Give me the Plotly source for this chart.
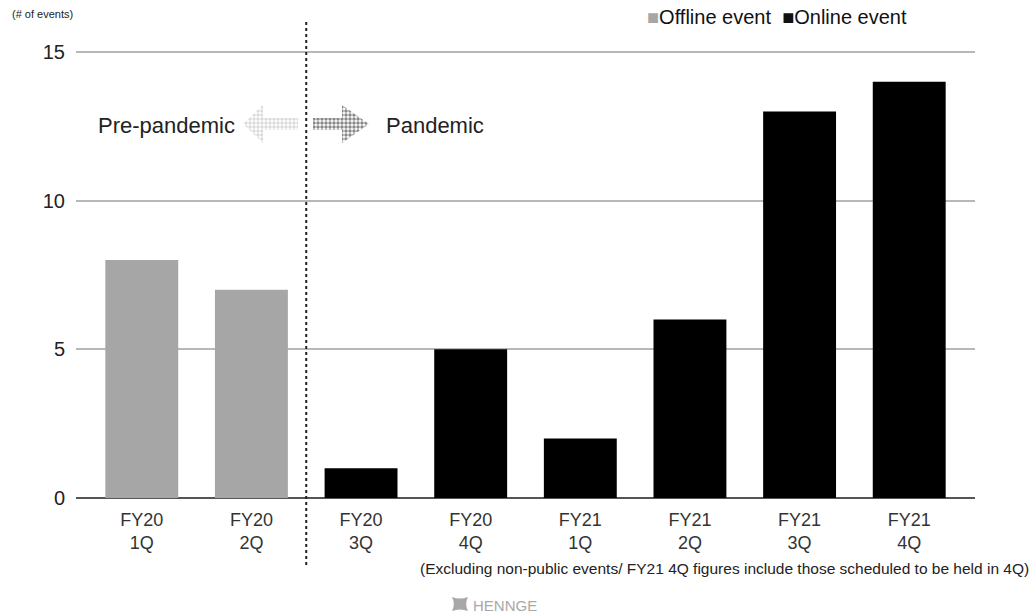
import plotly.graph_objects as go

categories = ["FY20<br>1Q", "FY20<br>2Q", "FY20<br>3Q", "FY20<br>4Q",
              "FY21<br>1Q", "FY21<br>2Q", "FY21<br>3Q", "FY21<br>4Q"]
offline_values = [8, 7, None, None, None, None, None, None]
online_values = [None, None, 1, 5, 2, 6, 13, 14]
y_ticks = [0, 5, 10, 15]

GREY = "#a6a6a6"
FONT = "Liberation Sans, Arial, Helvetica, sans-serif"

# plot area geometry in pixels (y=15 at 52px, y=0 at 498px)
L, R, B = 76, 975, 498
Y_TOP = 15.1
T = B - (B - 52) / 15 * Y_TOP
W, H = 1036, 615


def px(x):
    return (x - L) / (R - L)


def py(y):
    return (B - y) / (B - T)


fig = go.Figure()
fig.add_trace(go.Bar(x=list(range(8)), y=offline_values, marker_color=GREY,
                     marker_line_width=0, name="Offline event", showlegend=False))
fig.add_trace(go.Bar(x=list(range(8)), y=online_values, marker_color="#000000",
                     marker_line_width=0, name="Online event", showlegend=False))

# decorative dotted arrows (overlay axis in pixel coordinates)
left_arrow_x = [243, 263, 263, 298, 298, 263, 263, 243]
left_arrow_y = [124, 105, 118, 118, 130, 130, 143, 124]
right_arrow_x = [313, 342, 342, 369, 342, 342, 313, 313]
right_arrow_y = [118, 118, 105, 124, 143, 130, 130, 118]
fig.add_trace(go.Scatter(x=left_arrow_x, y=left_arrow_y, xaxis="x2", yaxis="y2",
                         mode="lines", line=dict(width=0), fill="toself",
                         fillcolor="rgba(0,0,0,0)",
                         fillpattern=dict(shape=".", fgcolor="#b5b5b5", bgcolor="rgba(0,0,0,0)",
                                          size=4, solidity=0.6),
                         hoverinfo="skip", showlegend=False))
fig.add_trace(go.Scatter(x=right_arrow_x, y=right_arrow_y, xaxis="x2", yaxis="y2",
                         mode="lines", line=dict(width=0), fill="toself",
                         fillcolor="rgba(0,0,0,0)",
                         fillpattern=dict(shape=".", fgcolor="#111111", bgcolor="rgba(0,0,0,0)",
                                          size=4, solidity=0.6),
                         hoverinfo="skip", showlegend=False))

fig.update_layout(
    width=W, height=H,
    margin=dict(l=L, r=W - R, t=T, b=H - B),
    paper_bgcolor="white", plot_bgcolor="white",
    bargap=0.335, barmode="overlay",
    font=dict(family=FONT, color="#222222"),
    xaxis=dict(
        range=[-0.6, 7.6], tickmode="array", tickvals=list(range(8)), ticktext=categories,
        showgrid=False, zeroline=False, showline=False, ticks="", ticklabelstandoff=9,
        tickfont=dict(size=18, color="#333333"), fixedrange=True,
    ),
    yaxis=dict(
        range=[0, Y_TOP], tickmode="array", tickvals=y_ticks,
        showgrid=True, gridcolor="#b8b8b8", gridwidth=1.5,
        zeroline=True, zerolinecolor="#555555", zerolinewidth=2,
        showline=False, ticks="", ticklabelstandoff=10,
        tickfont=dict(size=20, color="#222222"), fixedrange=True,
    ),
    xaxis2=dict(overlaying="x", range=[L, R], visible=False, fixedrange=True),
    yaxis2=dict(overlaying="y", range=[B, T], visible=False, fixedrange=True),
    showlegend=False,
)

# dotted divider
fig.add_shape(type="line", xref="x", yref="paper", x0=1.5, x1=1.5,
              y0=py(22), y1=py(568), line=dict(color="#222222", width=2, dash="dot"))

annotations = [
    dict(text="(# of events)", x=px(10), y=py(14), xanchor="left", yanchor="middle",
         font=dict(size=11, color="#222222")),
    dict(text="Pre-pandemic", x=px(237), y=py(126), xanchor="right", yanchor="middle",
         font=dict(size=22, color="#222222")),
    dict(text="Pandemic", x=px(384), y=py(126), xanchor="left", yanchor="middle",
         font=dict(size=22, color="#222222")),
    dict(text="<span style='color:%s'>■</span>Offline event  ■Online event" % GREY,
         x=px(645), y=py(17), xanchor="left", yanchor="middle",
         font=dict(size=20, color="#111111")),
    dict(text="(Excluding non-public events/ FY21 4Q figures include those scheduled to be held in 4Q)",
         x=px(1031), y=py(568), xanchor="right", yanchor="middle",
         font=dict(size=15.5, color="#222222")),
    dict(text="HENNGE", x=px(471), y=py(605), xanchor="left", yanchor="middle",
         font=dict(size=15, color="#a8a8a8")),
]
for a in annotations:
    a.update(xref="paper", yref="paper", showarrow=False)
    fig.add_annotation(**a)

# HENNGE logo mark
x0, x1, y0, y1 = px(452), px(468), py(597), py(611)
mx, my = (x0 + x1) / 2, (y0 + y1) / 2
dx, dy = (x1 - x0) * 0.22, (y0 - y1) * 0.22
fig.add_shape(type="path", xref="paper", yref="paper",
              path=f"M {x0},{y0} Q {mx},{y0 - dy} {x1},{y0} Q {x1 - dx},{my} {x1},{y1} "
                   f"Q {mx},{y1 + dy} {x0},{y1} Q {x0 + dx},{my} {x0},{y0} Z",
              fillcolor="#a8a8a8", line=dict(width=0))

fig.write_html("out.html")
